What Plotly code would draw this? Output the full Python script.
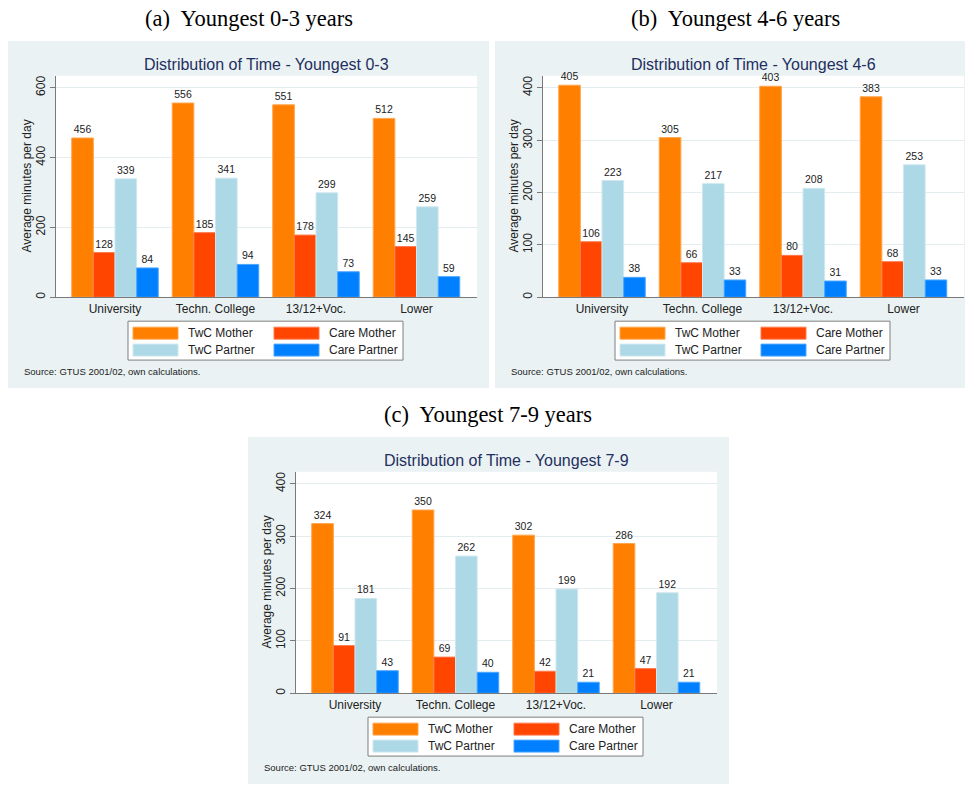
import plotly.graph_objects as go

# ---------------------------------------------------------------- data
CATEGORIES = ["University", "Techn. College", "13/12+Voc.", "Lower"]
SERIES = ["TwC Mother", "Care Mother", "TwC Partner", "Care Partner"]
COLORS = ["#ff7f00", "#ff4500", "#add8e6", "#0080ff"]
EDGE_COLORS = ["#ffa64d", "#ff7a4d", "#cfe8f0", "#4da6ff"]

# average minutes per day, youngest child 0-3
A_TWC_MOTHER = [456, 556, 551, 512]
A_CARE_MOTHER = [128, 185, 178, 145]
A_TWC_PARTNER = [339, 341, 299, 259]
A_CARE_PARTNER = [84, 94, 73, 59]

# youngest child 4-6
B_TWC_MOTHER = [405, 305, 403, 383]
B_CARE_MOTHER = [106, 66, 80, 68]
B_TWC_PARTNER = [223, 217, 208, 253]
B_CARE_PARTNER = [38, 33, 31, 33]

# youngest child 7-9
C_TWC_MOTHER = [324, 350, 302, 286]
C_CARE_MOTHER = [91, 69, 42, 47]
C_TWC_PARTNER = [181, 262, 199, 192]
C_CARE_PARTNER = [43, 40, 21, 21]

PANEL_TITLES = ["Distribution of Time - Youngest 0-3",
                "Distribution of Time - Youngest 4-6",
                "Distribution of Time - Youngest 7-9"]
CAPTIONS = ["(a)\u00a0 Youngest 0-3 years",
            "(b)\u00a0 Youngest 4-6 years",
            "(c)\u00a0 Youngest 7-9 years"]
Y_TICKS = [[0, 200, 400, 600], [0, 100, 200, 300, 400], [0, 100, 200, 300, 400]]
Y_MAX = [634, 423, 423]
Y_TITLE = "Average minutes per day"
SOURCE = "Source: GTUS 2001/02, own calculations."

PANEL_VALUES = [
    [A_TWC_MOTHER, A_CARE_MOTHER, A_TWC_PARTNER, A_CARE_PARTNER],
    [B_TWC_MOTHER, B_CARE_MOTHER, B_TWC_PARTNER, B_CARE_PARTNER],
    [C_TWC_MOTHER, C_CARE_MOTHER, C_TWC_PARTNER, C_CARE_PARTNER],
]

# ---------------------------------------------------------------- geometry (pixels)
W, H = 965, 785
# plot-area corners (left, top) of each panel; every plot area is 421 x 222 px
PLOT_ORIGIN = [(56, 76), (543, 76), (296, 473)]
PLOT_W, PLOT_H = 421, 222
BG_COLOR = "#eaf2f3"
TITLE_COLOR = "#1f2f5f"
TEXT_COLOR = "#222222"
SANS = "Arial, Liberation Sans, sans-serif"
SERIF = "Times New Roman, Liberation Serif, serif"


def px(x):
    return x / W


def py(y):
    return 1 - y / H


fig = go.Figure()
shapes = []
annotations = []

for p, values in enumerate(PANEL_VALUES):
    x0, y0 = PLOT_ORIGIN[p]
    ax = "" if p == 0 else str(p + 1)
    xref, yref = "x" + ax, "y" + ax

    for s, name in enumerate(SERIES):
        fig.add_trace(go.Bar(
            x=CATEGORIES, y=values[s], name=name,
            marker=dict(color=COLORS[s], line=dict(color=EDGE_COLORS[s], width=1)),
            text=values[s], texttemplate="%{y}", textposition="outside",
            textfont=dict(size=10.5, color=TEXT_COLOR, family=SANS),
            constraintext="none", cliponaxis=False,
            xaxis=xref, yaxis=yref, showlegend=False,
        ))

    fig.layout["xaxis" + ax] = dict(
        domain=[px(x0), px(x0 + PLOT_W)], anchor=yref,
        type="category", range=[-0.587, 3.602],
        showline=True, linecolor="#7a7a7a", linewidth=1,
        ticks="", showgrid=False, zeroline=False,
        tickfont=dict(size=12, color=TEXT_COLOR, family=SANS),
        fixedrange=True,
    )
    fig.layout["yaxis" + ax] = dict(
        domain=[py(y0 + PLOT_H), py(y0)], anchor=xref,
        range=[0, Y_MAX[p]], tickvals=Y_TICKS[p], tickangle=-90,
        ticks="outside", ticklen=5, tickcolor="#7a7a7a",
        showline=True, linecolor="#7a7a7a", linewidth=1,
        showgrid=True, gridcolor="#e3ecee", gridwidth=1, zeroline=False,
        tickfont=dict(size=12, color=TEXT_COLOR, family=SANS),
        fixedrange=True,
    )

    # panel background and white plot region
    bx0, by0 = x0 - 48, y0 - 35
    shapes.append(dict(type="rect", xref="paper", yref="paper", layer="below",
                       x0=px(bx0), x1=px(bx0 + 481), y0=py(by0 + 348), y1=py(by0),
                       fillcolor=BG_COLOR, line=dict(width=0)))
    shapes.append(dict(type="rect", xref="paper", yref="paper", layer="below",
                       x0=px(x0), x1=px(x0 + PLOT_W), y0=py(y0 + PLOT_H), y1=py(y0),
                       fillcolor="#ffffff", line=dict(width=0)))

    cx = x0 + PLOT_W / 2
    # caption above the panel
    annotations.append(dict(text=CAPTIONS[p], x=px(cx - 18), y=py(by0 - 22),
                            xref="paper", yref="paper", showarrow=False,
                            xanchor="center", yanchor="middle",
                            font=dict(size=22.5, color="#000000", family=SERIF)))
    # panel title
    annotations.append(dict(text=PANEL_TITLES[p], x=px(cx), y=py(y0 - 11),
                            xref="paper", yref="paper", showarrow=False,
                            xanchor="center", yanchor="middle",
                            font=dict(size=16, color=TITLE_COLOR, family=SANS)))
    # y-axis title
    annotations.append(dict(text=Y_TITLE, x=px(x0 - 29), y=py(y0 + PLOT_H / 2),
                            xref="paper", yref="paper", showarrow=False,
                            textangle=-90, xanchor="center", yanchor="middle",
                            font=dict(size=12, color=TEXT_COLOR, family=SANS)))
    # source note
    annotations.append(dict(text=SOURCE, x=px(x0 - 34), y=py(y0 + 296),
                            xref="paper", yref="paper", showarrow=False,
                            xanchor="left", yanchor="middle",
                            font=dict(size=9.5, color=TEXT_COLOR, family=SANS)))

    # legend box: two columns, two rows
    lx0, ly0 = x0 + 72, y0 + 246
    shapes.append(dict(type="rect", xref="paper", yref="paper", layer="above",
                       x0=px(lx0), x1=px(lx0 + 275), y0=py(ly0 + 39), y1=py(ly0),
                       fillcolor="#ffffff", line=dict(color="#7f7f7f", width=1)))
    for s, name in enumerate(SERIES):
        col, row = s % 2, s // 2
        sx = lx0 + 5 + col * 141
        sy = ly0 + 6 + row * 17
        shapes.append(dict(type="rect", xref="paper", yref="paper", layer="above",
                           x0=px(sx), x1=px(sx + 45), y0=py(sy + 12), y1=py(sy),
                           fillcolor=COLORS[s], line=dict(color=EDGE_COLORS[s], width=1)))
        annotations.append(dict(text=name, x=px(sx + 53), y=py(sy + 6),
                                xref="paper", yref="paper", showarrow=False,
                                xanchor="left", yanchor="middle",
                                font=dict(size=12, color=TEXT_COLOR, family=SANS)))

fig.update_layout(
    width=W, height=H,
    margin=dict(l=0, r=0, t=0, b=0),
    paper_bgcolor="#ffffff", plot_bgcolor="rgba(0,0,0,0)",
    barmode="group", bargap=0.139, bargroupgap=0,
    shapes=shapes, annotations=annotations,
    showlegend=False,
)

fig.write_html("out.html")
